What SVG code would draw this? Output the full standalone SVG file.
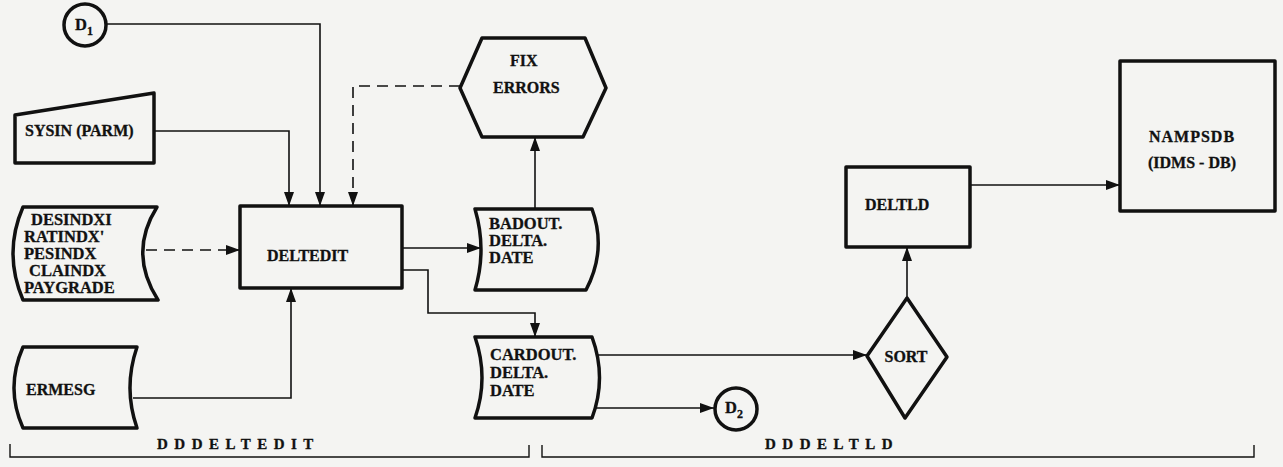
<svg xmlns="http://www.w3.org/2000/svg" width="1283" height="467" viewBox="0 0 1283 467">
<style>
.bg{fill:#f4f4f2}
.sh{fill:none;stroke:#111;stroke-width:3.5;stroke-linejoin:round}
.ln{fill:none;stroke:#111;stroke-width:1.6}
.ds{fill:none;stroke:#111;stroke-width:1.6;stroke-dasharray:11 7}
.br{fill:none;stroke:#111;stroke-width:1.4}
text{font-family:"Liberation Serif","DejaVu Serif",serif;font-weight:bold;fill:#111;stroke:#111;stroke-width:0.3}
.t15{font-size:16px}
.t16{font-size:16.5px}
.t14{font-size:15px;letter-spacing:6.5px}
.sp{letter-spacing:1px}
</style>
<defs>
<marker id="ah" viewBox="0 0 14 10" refX="14" refY="5" markerWidth="14" markerHeight="10" markerUnits="userSpaceOnUse" orient="auto">
<path d="M0,0 L14,5 L0,10 Z" fill="#111"/>
</marker>
</defs>
<rect class="bg" x="0" y="0" width="1283" height="467"/>

<g id="connectors">
<path class="ln" d="M107,24 L320,24 L320,206" marker-end="url(#ah)"/>
<path class="ln" d="M154,131 L289,131 L289,206" marker-end="url(#ah)"/>
<path class="ds" d="M460,86 L353,86 L353,206" marker-end="url(#ah)"/>
<path class="ds" d="M146,250 L240,250" marker-end="url(#ah)"/>
<path class="ln" d="M133,398 L291,398 L291,288" marker-end="url(#ah)"/>
<path class="ln" d="M402,248 L481,248" marker-end="url(#ah)"/>
<path class="ln" d="M402,270 L428,270 L428,313 L535,313 L535,337" marker-end="url(#ah)"/>
<path class="ln" d="M535,210 L535,137" marker-end="url(#ah)"/>
<path class="ln" d="M598,355 L867,355" marker-end="url(#ah)"/>
<path class="ln" d="M594,408 L714,408" marker-end="url(#ah)"/>
<path class="ln" d="M907,298 L907,247" marker-end="url(#ah)"/>
<path class="ln" d="M970,185 L1120,185" marker-end="url(#ah)"/>
</g>

<g id="D1">
<circle class="sh" cx="85" cy="25" r="21"/>
<text class="t16" x="75" y="30">D<tspan font-size="12" dy="5">1</tspan></text>
</g>

<g id="SYSIN">
<path class="sh" d="M15,115 L154,93 L154,163 L15,163 Z"/>
<text class="t15" x="25" y="136">SYSIN (PARM)</text>
</g>

<g id="INDEXES">
<path class="sh" d="M23,207 L157,207 Q128,253 158,300 L23,300 Q3,253 23,207 Z"/>
<text class="t16" x="31" y="225">DESINDXI</text>
<text class="t16" x="24" y="242">RATINDX'</text>
<text class="t16" x="24" y="259">PESINDX</text>
<text class="t16" x="29" y="276">CLAINDX</text>
<text class="t16" x="24" y="293">PAYGRADE</text>
</g>

<g id="ERMESG">
<path class="sh" d="M23,347 L137,347 Q123,388 137,428 L23,428 Q5,388 23,347 Z"/>
<text class="t15" x="26" y="395">ERMESG</text>
</g>

<g id="DELTEDIT">
<rect class="sh" x="240" y="206" width="162" height="82"/>
<text class="t15" x="267" y="261">DELTEDIT</text>
</g>

<g id="FIXERRORS">
<path class="sh" d="M482,38 L585,38 L606,88 L583,137 L482,137 L460,88 Z"/>
<text class="t15" x="510" y="66">FIX</text>
<text class="t15" x="493" y="93">ERRORS</text>
</g>

<g id="BADOUT">
<path class="sh" d="M475,209 L592,209 Q607,250 586,290 L475,290 Q487,250 475,209 Z"/>
<text class="t16" x="489" y="229">BADOUT.</text>
<text class="t16" x="489" y="246">DELTA.</text>
<text class="t16" x="489" y="263">DATE</text>
</g>

<g id="CARDOUT">
<path class="sh" d="M475,337 L592,337 Q607,378 592,418 L475,418 Q489,378 475,337 Z"/>
<text class="t16" x="490" y="360">CARDOUT.</text>
<text class="t16" x="490" y="378">DELTA.</text>
<text class="t16" x="490" y="396">DATE</text>
</g>

<g id="D2">
<circle class="sh" cx="736" cy="409" r="21"/>
<text class="t16" x="725" y="413">D<tspan font-size="12" dy="5">2</tspan></text>
</g>

<g id="SORT">
<path class="sh" d="M907,298 L947,357 L905,418 L867,356 Z"/>
<text class="t15" x="906" y="362" text-anchor="middle">SORT</text>
</g>

<g id="DELTLD">
<rect class="sh" x="846" y="167" width="124" height="80"/>
<text class="t15" x="865" y="210">DELTLD</text>
</g>

<g id="NAMPSDB">
<rect class="sh" x="1120" y="61" width="155" height="150"/>
<text class="t15 sp" x="1192" y="142" text-anchor="middle">NAMPSDB</text>
<text class="t15" x="1192" y="168" text-anchor="middle">(IDMS - DB)</text>
</g>

<g id="brackets">
<path class="br" d="M10,444 L10,457 L529,457 L529,445"/>
<path class="br" d="M542,445 L542,457 L1254,457 L1254,445"/>
<text class="t14" x="157" y="449">DDDELTEDIT</text>
<text class="t14" x="765" y="449">DDDELTLD</text>
</g>
</svg>
